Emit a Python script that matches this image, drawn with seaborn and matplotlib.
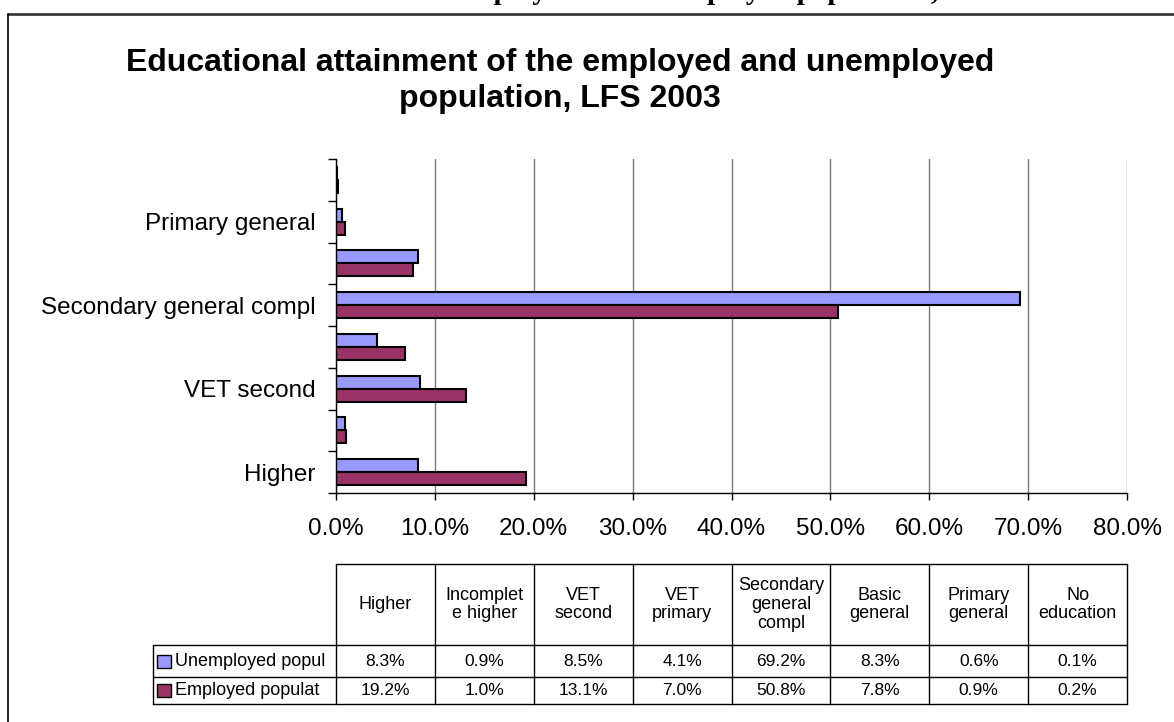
import matplotlib
matplotlib.use("Agg")
import matplotlib.pyplot as plt
import matplotlib.transforms as mtransforms
from matplotlib.lines import Line2D
from matplotlib.patches import Rectangle
from matplotlib.ticker import FuncFormatter
import seaborn as sns
import pandas as pd
import numpy as np

# ---------------- data ----------------
categories = ["Higher", "Incomplete higher", "VET second", "VET primary",
              "Secondary general compl", "Basic general", "Primary general",
              "No education"]
header_labels = ["Higher", "Incomplet\ne higher", "VET\nsecond", "VET\nprimary",
                 "Secondary\ngeneral\ncompl", "Basic\ngeneral", "Primary\ngeneral",
                 "No\neducation"]
unemployed = [8.3, 0.9, 8.5, 4.1, 69.2, 8.3, 0.6, 0.1]
employed = [19.2, 1.0, 13.1, 7.0, 50.8, 7.8, 0.9, 0.2]
series_names = ["Unemployed popul", "Employed populat"]
series_colors = ["#9999FF", "#993366"]
xticks = [0, 10, 20, 30, 40, 50, 60, 70, 80]
title = "Educational attainment of the employed and unemployed\npopulation, LFS 2003"
page_heading = "Educational attainment of the employed and unemployed population, LFS 2003"

# ---------------- style ----------------
sns.set_theme(style="white")
plt.rcParams['font.family'] = ['Liberation Sans', 'DejaVu Sans']

W, H = 1174, 722
fig = plt.figure(figsize=(W / 100, H / 100), dpi=100)
fig.patch.set_facecolor("white")

def fx(px):
    return px / W

def fy(py):
    return 1 - py / H

ax_left, ax_right, ax_top, ax_bottom = 336, 1127, 159, 493
ax = fig.add_axes([fx(ax_left), fy(ax_bottom), (ax_right - ax_left) / W, (ax_bottom - ax_top) / H])

df = pd.DataFrame({
    "category": categories * 2,
    "series": [series_names[0]] * len(categories) + [series_names[1]] * len(categories),
    "value": unemployed + employed,
})

order = categories[::-1]  # top to bottom
sns.barplot(data=df, y="category", x="value", hue="series", order=order,
            hue_order=series_names, palette=series_colors, orient="h",
            width=0.62, edgecolor="black", linewidth=1.5, saturation=1,
            legend=False, ax=ax)

ax.set_xlim(xticks[0], xticks[-1])
ax.set_ylim(len(order) - 0.5, -0.5)
ax.set_xlabel("")
ax.set_ylabel("")

# y ticks: marks at category boundaries, labels on every other category
ax.set_yticks(np.arange(len(order) + 1) - 0.5)
ax.set_yticklabels([])
label_pos = [i for i in range(len(order)) if i % 2 == 1]
ax.set_yticks(label_pos, minor=True)
ax.set_yticklabels([order[i] for i in label_pos], minor=True)
ax.tick_params(axis="y", which="major", left=True, length=6, width=1, color="black", direction="out")
ax.tick_params(axis="y", which="minor", left=True, length=0, pad=15, labelsize=17.5, labelcolor="black")

ax.set_xticks(xticks)
ax.xaxis.set_major_formatter(FuncFormatter(lambda v, p: f"{v:.1f}%"))
ax.tick_params(axis="x", bottom=True, length=5, width=1, color="black", direction="out",
               pad=13, labelsize=17.5, labelcolor="black")

ax.grid(axis="x", color="#7a7a7a", lw=1)
ax.grid(axis="y", visible=False)
ax.set_axisbelow(True)
for s in ["top", "right"]:
    ax.spines[s].set_visible(False)
for s in ["left", "bottom"]:
    ax.spines[s].set_color("black")
    ax.spines[s].set_linewidth(1)

# ---------------- data table ----------------
trans = mtransforms.blended_transform_factory(ax.transData, fig.transFigure)
n = len(categories)
edges = np.linspace(xticks[0], xticks[-1], n + 1)
tab_top, hdr_bot, row1_bot, row2_bot = 564, 645, 677, 704
rowhdr_left = 153
left_data = ax.transData.inverted().transform(fig.transFigure.transform((fx(rowhdr_left), 0)))[0]

def add_line(xs, ys, **kw):
    fig.add_artist(Line2D(xs, ys, transform=trans, color="black", lw=1.0, **kw))

for e in edges:
    add_line([e, e], [fy(tab_top), fy(row2_bot)])
add_line([edges[0], edges[-1]], [fy(tab_top), fy(tab_top)])
for yy in [hdr_bot, row1_bot, row2_bot]:
    add_line([left_data, edges[-1]], [fy(yy), fy(yy)])
add_line([left_data, left_data], [fy(hdr_bot), fy(row2_bot)])

for i, lbl in enumerate(header_labels):
    cx = (edges[i] + edges[i + 1]) / 2
    fig.text(cx, fy((tab_top + hdr_bot) / 2), lbl, transform=trans, ha="center", va="center",
             fontsize=13, linespacing=1.15, color="black")

row_centers = [(hdr_bot + row1_bot) / 2, (row1_bot + row2_bot) / 2]
for vals, yc in zip([unemployed, employed], row_centers):
    for i, v in enumerate(vals):
        cx = (edges[i] + edges[i + 1]) / 2
        fig.text(cx, fy(yc), f"{v:.1f}%", transform=trans, ha="center", va="center",
                 fontsize=12.5, color="black")

for name, col, yc in zip(series_names, series_colors, row_centers):
    fig.add_artist(Rectangle((fx(157), fy(yc + 6.5)), 14 / W, 13 / H, transform=fig.transFigure,
                             facecolor=col, edgecolor="black", lw=1))
    fig.text(fx(175), fy(yc), name, ha="left", va="center", fontsize=13, color="black")

# ---------------- titles & frame ----------------
fig.text(fx(560), fy(81), title, ha="center", va="center", fontsize=23,
         fontweight="bold", linespacing=1.3, color="black")
fig.text(fx(78), fy(-1), page_heading, ha="left", va="baseline", fontsize=21,
         fontweight="bold", family=["Liberation Serif", "DejaVu Serif"], color="black")

fig.add_artist(Line2D([fx(8), 1], [fy(14), fy(14)], transform=fig.transFigure, color="#3a3a3a", lw=2))
fig.add_artist(Line2D([fx(8), fx(8)], [fy(14), 0], transform=fig.transFigure, color="black", lw=1.2))

fig.savefig("out.png", dpi=100)
